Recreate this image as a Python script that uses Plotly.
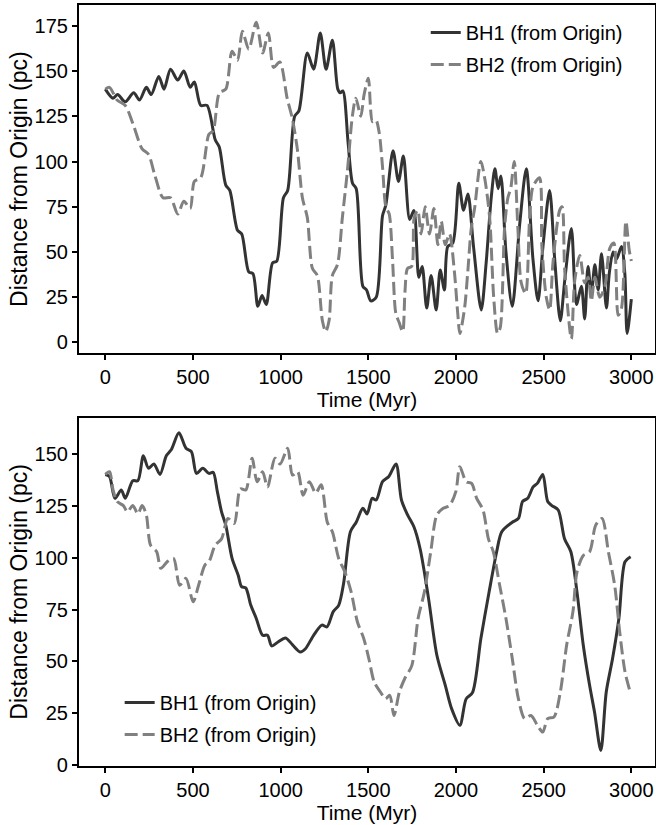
import plotly.graph_objects as go

# ---------------- data ----------------
t_top_bh1 = [0,43,70,114,162,195,234,262,305,335,372,413,448,484,508,544,580,627,650,687,
             710,754,778,818,842,870,894,918,954,978,1016,1040,1080,1104,1152,1188,1226,1259,1295,1326,
             1340,1355,1385,1410,1431,1469,1490,1514,1545,1581,1600,1641,1672,1700,1736,1760,1788,1807,1833,1858,
             1887,1910,1934,1953,1982,2016,2043,2068,2100,2144,2172,2201,2222,2240,2256,2285,2321,2363,2401,2439,
             2468,2496,2534,2563,2595,2620,2658,2687,2715,2734,2753,2772,2792,2811,2830,2858,2874,2896,2915,2944,
             2963,2976,3000]
d_top_bh1 = [140,135,137,133,138,134,141,137,147,140,151,145,150,141,144,131,131,112,108,87,
             84,62,60,39,38,20,26,21,44,45,80,84,125,128,160,151,171,151,167,140,
             138,139,110,88,85,31,29,23,25,70,76,106,89,103,68,73,36,42,19,37,
             18,40,29,53,55,88,73,82,53,18,44,80,96,85,92,50,20,65,96,46,
             23,53,84,46,12,34,63,21,31,13,42,27,43,29,49,19,38,50,46,53,
             38,5,24]

t_top_bh2 = [0,24,67,114,157,210,246,281,329,372,413,448,484,508,544,591,615,651,687,723,
             754,782,818,861,897,930,960,995,1037,1066,1095,1124,1152,1181,1209,1238,1257,1276,1295,1324,
             1352,1381,1409,1429,1457,1476,1500,1524,1543,1562,1581,1600,1619,1638,1657,1676,1696,1709,1724,1747,
             1762,1782,1801,1824,1849,1874,1897,1916,1939,1963,1991,2010,2022,2049,2068,2087,2106,2142,2165,2192,
             2215,2237,2252,2277,2296,2312,2332,2353,2372,2397,2420,2439,2476,2490,2515,2534,2553,2591,2605,2620,
             2658,2677,2706,2734,2753,2772,2792,2820,2849,2877,2900,2925,2944,2969,2988,3000]
d_top_bh2 = [140,141,134,131,121,107,104,93,80,80,71,78,74,89,91,115,117,138,140,161,
             156,172,162,177,160,171,152,155,135,124,107,80,69,41,37,12,6,12,37,43,
             69,95,125,135,125,137,146,122,123,116,97,75,71,46,16,11,6,28,41,42,
             69,73,60,75,60,74,54,67,54,60,39,16,5,19,40,63,74,100,90,69,
             25,5,8,63,80,85,100,63,33,27,69,86,91,53,25,18,44,73,75,40,
             2,34,48,33,36,23,36,25,31,52,55,15,19,67,51,45]

t_bot_bh1 = [0,24,55,91,114,157,186,217,246,277,312,348,377,420,460,491,520,556,591,615,
             639,663,687,723,758,777,801,830,861,897,925,949,985,1028,1068,1111,1140,1188,1235,1264,
             1300,1331,1359,1398,1431,1469,1493,1522,1545,1581,1617,1658,1689,1724,1760,1796,1844,1891,1939,1975,
             2022,2058,2094,2142,2189,2232,2261,2321,2356,2380,2409,2440,2464,2495,2523,2547,2583,2619,2655,2690,
             2726,2762,2790,2826,2857,2893,2929,2964,2996]
d_bot_bh1 = [140,139,128.5,132.5,128.5,137,137,149,143,145,140,149,152,160,152.6,151,140.5,143,140.5,141,
             131.7,122,115.6,99.6,91.5,86,85.4,77,70.7,62.6,62.6,57.5,59.4,61.3,58,54.6,56,62.6,67.5,66.6,
             74,77,87.5,112.4,117,123.7,121,128.5,127.7,136.5,139,145,127.7,120.5,114.8,104,80,53,38.5,27.3,
             19.3,32,35,61,83.5,102.8,112.4,117,118.8,127,128.5,134,135.7,140,127,125,122.9,109,102.8,83.5,
             57.8,38.5,25.7,7.2,35.3,51.4,70.7,98,100.4]

t_bot_bh2 = [0,24,43,67,103,126,157,186,210,234,258,293,317,353,389,424,460,501,532,568,
             591,627,663,699,735,770,801,837,866,897,925,968,997,1040,1068,1097,1128,1164,1200,1231,
             1266,1295,1331,1367,1402,1438,1474,1503,1534,1569,1598,1622,1646,1677,1708,1748,1784,1820,1856,1891,
             1927,1963,1999,2022,2058,2089,2118,2154,2185,2213,2249,2285,2321,2356,2392,2428,2464,2495,2523,2559,
             2595,2631,2667,2690,2726,2762,2797,2833,2869,2905,2934,2964,2996]
d_bot_bh2 = [140,141.3,133,127,125,122,125,121,125,120.5,106,102.8,94.8,98,99.6,86.7,90,78.7,86.7,96.4,
             98,106,109,118.8,116.4,133,132.5,147.8,136.5,141.3,134,147.8,145,152.6,139.7,141.3,130,136.5,131,135,
             117,112.4,99.6,93,83.5,69,61,51.4,40,35.3,32,33.7,24,35.3,41.8,48,70.7,83.5,102.8,120.5,
             123.7,125,131.7,143.7,136.5,135.7,128.5,122.9,109,102.8,86.7,70.7,51.4,32,22.5,24,19.3,16,22.5,23.3,
             35.3,57.8,74,93,101,102.8,115.6,118.8,102.8,86.7,64,45,34.5]

name_bh1 = "BH1 (from Origin)"
name_bh2 = "BH2 (from Origin)"
x_title = "Time (Myr)"
y_title = "Distance from Origin (pc)"
x_ticks = [0, 500, 1000, 1500, 2000, 2500, 3000]
y_ticks_top = [0, 25, 50, 75, 100, 125, 150, 175]
y_ticks_bot = [0, 25, 50, 75, 100, 125, 150]

# ---------------- style ----------------
FONT = "Liberation Sans, Arial, Helvetica, sans-serif"
C1 = "#333333"
C2 = "#808080"
solid = dict(color=C1, width=3, shape="spline", smoothing=0.8)
dashed = dict(color=C2, width=3, dash="13px,5px", shape="spline", smoothing=0.8)

fig = go.Figure()
fig.add_trace(go.Scatter(x=t_top_bh1, y=d_top_bh1, mode="lines", line=solid, name=name_bh1,
                         xaxis="x", yaxis="y", legend="legend", legendgroup="a"))
fig.add_trace(go.Scatter(x=t_top_bh2, y=d_top_bh2, mode="lines", line=dashed, name=name_bh2,
                         xaxis="x", yaxis="y", legend="legend", legendgroup="b"))
fig.add_trace(go.Scatter(x=t_bot_bh1, y=d_bot_bh1, mode="lines", line=solid, name=name_bh1,
                         xaxis="x2", yaxis="y2", legend="legend2", legendgroup="c"))
fig.add_trace(go.Scatter(x=t_bot_bh2, y=d_bot_bh2, mode="lines", line=dashed, name=name_bh2,
                         xaxis="x2", yaxis="y2", legend="legend2", legendgroup="d"))

axis_common = dict(showline=True, mirror=True, linecolor="black", linewidth=2.2,
                   ticks="outside", ticklen=5, tickwidth=1.5, tickcolor="black",
                   showgrid=False, zeroline=False, automargin=False,
                   tickfont=dict(family=FONT, size=20, color="black"))

top_dom = [0.5423, 1.0]
bot_dom = [0.0, 0.4577]

fig.update_layout(
    width=656, height=825,
    margin=dict(l=79, r=1, t=5, b=59),
    paper_bgcolor="white", plot_bgcolor="white",
    font=dict(family=FONT, size=20, color="black"),
    xaxis=dict(axis_common, domain=[0, 1], anchor="y", range=[-150, 3135], tickvals=x_ticks,
               title=dict(text=x_title, font=dict(family=FONT, size=21), standoff=0)),
    yaxis=dict(axis_common, domain=top_dom, anchor="x", range=[-6, 186.5], tickvals=y_ticks_top,
               title=dict(text=y_title, font=dict(family=FONT, size=23), standoff=0)),
    xaxis2=dict(axis_common, domain=[0, 1], anchor="y2", range=[-150, 3135], tickvals=x_ticks,
                title=dict(text=x_title, font=dict(family=FONT, size=21), standoff=0)),
    yaxis2=dict(axis_common, domain=bot_dom, anchor="x2", range=[-0.3, 167.3], tickvals=y_ticks_bot,
                title=dict(text=y_title, font=dict(family=FONT, size=23), standoff=0)),
    legend=dict(x=0.602, y=0.9895, xanchor="left", yanchor="top", bgcolor="rgba(255,255,255,0)",
                font=dict(family=FONT, size=20, color="black"), tracegroupgap=3, traceorder="grouped"),
    legend2=dict(x=0.0706, y=0.109, xanchor="left", yanchor="top", bgcolor="rgba(255,255,255,0)",
                 font=dict(family=FONT, size=20, color="black"), tracegroupgap=3, traceorder="grouped"),
    showlegend=True,
)

fig.write_html("out.html", config={"displayModeBar": False},
               post_script="document.body.style.margin='0';document.body.style.overflow='hidden';")
